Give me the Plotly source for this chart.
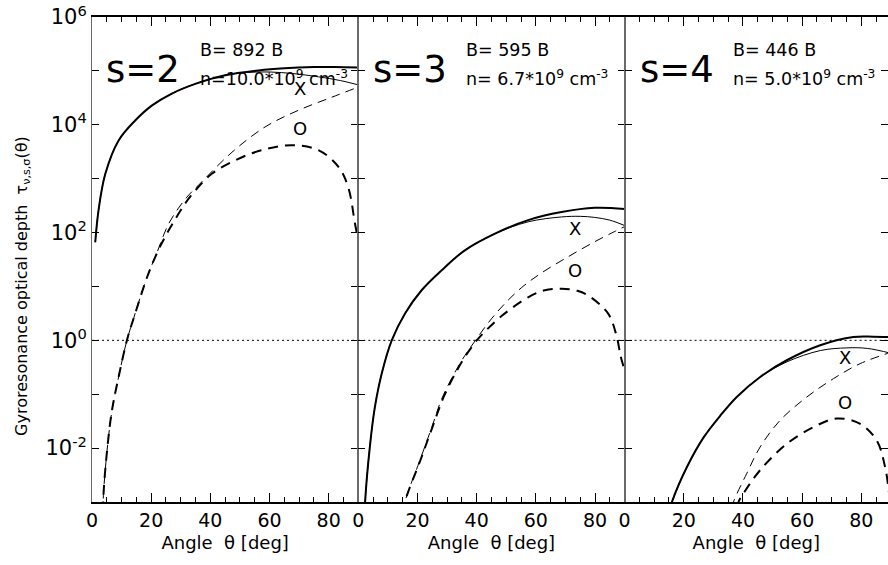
"""
Gyroresonance optical depth vs angle for harmonics s=2,3,4
"""
import plotly.graph_objects as go
from plotly.subplots import make_subplots

# ---- data (angle in deg, tau) ----
harmonics = ["s=2", "s=3", "s=4"]
b_labels = ["B= 892 B", "B= 595 B", "B= 446 B"]
n_labels = ["n=10.0*10<sup>9</sup> cm<sup>-3</sup>",
            "n= 6.7*10<sup>9</sup> cm<sup>-3</sup>",
            "n= 5.0*10<sup>9</sup> cm<sup>-3</sup>"]

# s=2
th2_x_thick = [1.1, 2.2, 4.5, 9.0, 14.6, 20.3, 27.0, 34.9, 45.0, 56.2, 65, 75, 82, 90]
tau2_x_thick = [66, 257, 1230, 5130, 1.2e4, 2.29e4, 3.8e4, 5.75e4, 8.32e4, 1.02e5,
                1.12e5, 1.175e5, 1.175e5, 1.15e5]
th2_x_thin = [1.1, 2.2, 4.5, 9.0, 14.6, 20.3, 27.0, 34.9, 45.0, 52, 60, 68, 76.5, 84, 90]
tau2_x_thin = [66, 257, 1230, 5130, 1.2e4, 2.29e4, 3.8e4, 5.75e4, 8.32e4, 9.33e4,
               9.55e4, 8.91e4, 7.76e4, 6.61e4, 5.5e4]
th2_o_thin = [3.5, 3.9, 5.1, 6.75, 9.0, 11.8, 14.6, 18.6, 21.9, 25.9, 31.5, 37.1,
              47.3, 58.5, 69.8, 81, 90]
tau2_o_thin = [3.2e-4, 1.45e-3, 9.1e-3, 0.050, 0.21, 1.0, 3.16, 14.8, 41.7, 145, 417,
               871, 3090, 9120, 1.86e4, 3.24e4, 5.01e4]
th2_o_thick = [3.5, 3.9, 5.1, 6.75, 9.0, 11.8, 14.6, 18.6, 21.4, 24.7, 31.5, 34.9,
               40.5, 48.4, 57.4, 67.5, 76.5, 83.3, 86.6, 88.9, 90]
tau2_o_thick = [3.2e-4, 1.45e-3, 9.1e-3, 0.050, 0.21, 1.0, 3.16, 14.8, 35.5, 83.2, 347,
                603, 1230, 2190, 3390, 4170, 3390, 1660, 692, 145, 70.8]

# s=3
th3_x_thick = [2.0, 2.3, 3.9, 5.6, 7.9, 11.3, 15.8, 21.4, 28.2, 36.0, 46.2, 57.4,
               68.7, 79.9, 90]
tau3_x_thick = [3.2e-4, 1e-3, 0.0105, 0.0575, 0.24, 1.0, 3.16, 8.5, 20, 46.8, 95.5,
                170, 240, 288, 275]
th3_x_thin = [2.0, 2.3, 3.9, 5.6, 7.9, 11.3, 15.8, 21.4, 28.2, 36.0, 46.2, 57.4,
              68.7, 75, 79.9, 85, 90]
tau3_x_thin = [3.2e-4, 1e-3, 0.0105, 0.0575, 0.24, 1.0, 3.16, 8.5, 20, 46.8, 95.5,
               158, 195, 200, 191, 170, 135]
th3_o_thin = [15.5, 15.8, 20.8, 24.8, 28.4, 34.7, 39.6, 45.0, 49.5, 55.2, 61.9, 70.9,
              79.9, 86.7, 90]
tau3_o_thin = [6.3e-4, 1e-3, 5.9e-3, 0.024, 0.087, 0.40, 1.0, 2.51, 4.79, 9.55, 17.8,
               35.5, 67.6, 105, 129]
th3_o_thick = [15.5, 15.8, 21.0, 25.0, 29.0, 35.0, 39.6, 41.7, 48.4, 57.4, 63.0, 68.7,
               74.0, 77.7, 84.4, 87.2, 88.7, 90]
tau3_o_thick = [6.3e-4, 1e-3, 6.0e-3, 0.024, 0.093, 0.40, 0.93, 1.26, 2.82, 6.3, 8.5,
                9.1, 8.3, 6.8, 3.16, 1.26, 0.50, 0.28]

# s=4
th4_x_thick = [15.5, 16.0, 21.1, 26.7, 32.3, 37.9, 45.8, 54.8, 66.1, 77.3, 84, 90]
tau4_x_thick = [7.9e-4, 1e-3, 4.5e-3, 0.0158, 0.0398, 0.089, 0.209, 0.427, 0.81, 1.15,
                1.17, 1.15]
th4_x_thin = [15.5, 16.0, 21.1, 26.7, 32.3, 37.9, 45.8, 54.8, 66.1, 75.1, 82, 90]
tau4_x_thin = [7.9e-4, 1e-3, 4.5e-3, 0.0158, 0.0398, 0.089, 0.209, 0.398, 0.646, 0.724,
               0.708, 0.575]
th4_o_thin = [36.5, 36.8, 41.3, 45.8, 52.6, 61.6, 70.6, 79.6, 90]
tau4_o_thin = [7.9e-4, 1e-3, 3.4e-3, 0.0105, 0.033, 0.089, 0.195, 0.37, 0.60]
th4_o_thick = [38.2, 38.5, 40.2, 45.8, 54.8, 63.8, 71.7, 79.6, 85.2, 88.0, 89.5, 90.5]
tau4_o_thick = [7.9e-4, 1e-3, 1.45e-3, 3.9e-3, 0.012, 0.0245, 0.0355, 0.0282, 0.0138,
                4.5e-3, 1.26e-3, 4e-4]

panels = [
    (th2_x_thick, tau2_x_thick, th2_x_thin, tau2_x_thin,
     th2_o_thin, tau2_o_thin, th2_o_thick, tau2_o_thick),
    (th3_x_thick, tau3_x_thick, th3_x_thin, tau3_x_thin,
     th3_o_thin, tau3_o_thin, th3_o_thick, tau3_o_thick),
    (th4_x_thick, tau4_x_thick, th4_x_thin, tau4_x_thin,
     th4_o_thin, tau4_o_thin, th4_o_thick, tau4_o_thick),
]

# mode label positions (deg, log10 tau)
x_label_pos = [(70.3, 4.68), (73.2, 2.08), (74.5, -0.32)]
o_label_pos = [(70.3, 3.93), (73.2, 1.30), (74.5, -1.15)]

y_tickvals = [1e-3, 1e-2, 1e-1, 1, 10, 1e2, 1e3, 1e4, 1e5, 1e6]
y_ticktext = ["", "10<sup>-2</sup>", "", "10<sup>0</sup>", "", "10<sup>2</sup>", "",
              "10<sup>4</sup>", "", "10<sup>6</sup>"]
x_ranges = [[0, 90], [0, 90], [0, 89.0]]

FONT = "DejaVu Sans, Liberation Sans, Arial, sans-serif"

fig = make_subplots(rows=1, cols=3, shared_yaxes=True, horizontal_spacing=0,
                    column_widths=[266.6, 266.6, 263.7])

for i, (xa, ya, xb, yb, xc, yc, xd, yd) in enumerate(panels):
    col = i + 1
    fig.add_trace(go.Scatter(x=xa, y=ya, mode="lines", line_shape="spline",
                             line=dict(color="black", width=2)), row=1, col=col)
    fig.add_trace(go.Scatter(x=xb, y=yb, mode="lines", line_shape="spline",
                             line=dict(color="black", width=1)), row=1, col=col)
    fig.add_trace(go.Scatter(x=xc, y=yc, mode="lines", line_shape="spline",
                             line=dict(color="black", width=1, dash="9px,6px")),
                  row=1, col=col)
    fig.add_trace(go.Scatter(x=xd, y=yd, mode="lines", line_shape="spline",
                             line=dict(color="black", width=2, dash="10px,7px")),
                  row=1, col=col)
    # tau = 1 reference line
    fig.add_trace(go.Scatter(x=x_ranges[i], y=[1, 1], mode="lines",
                             line=dict(color="black", width=1, dash="2px,3px")),
                  row=1, col=col)

    fig.update_xaxes(range=x_ranges[i], tick0=0, dtick=20, ticks="inside", ticklen=9,
                     tickcolor="black", minor=dict(dtick=5, ticks="inside", ticklen=5,
                                                   tickcolor="black"),
                     showline=True, linecolor="black", linewidth=1.5, mirror="ticks",
                     showgrid=False, zeroline=False,
                     tickfont=dict(size=19, color="black", family=FONT),
                     title=dict(text="Angle\u00a0\u00a0θ [deg]", standoff=7,
                                font=dict(size=18, color="black", family=FONT)),
                     row=1, col=col)
    fig.update_yaxes(type="log", range=[-3, 6], tickvals=y_tickvals, ticktext=y_ticktext,
                     ticks="inside", ticklen=7, tickcolor="black",
                     showline=True, linecolor="#6a6a6a", linewidth=1, mirror="ticks",
                     showgrid=False, zeroline=False,
                     tickfont=dict(size=21, color="black", family=FONT),
                     showticklabels=(col == 1), row=1, col=col)

    xref = "x" if col == 1 else f"x{col}"
    yref = "y" if col == 1 else f"y{col}"
    fig.add_annotation(x=4.0 + 0.3 * i, y=5.03, xref=xref, yref=yref, text=harmonics[i],
                       showarrow=False, xanchor="left", yanchor="middle",
                       font=dict(size=37, color="black", family=FONT))
    fig.add_annotation(x=35.8, y=5.38, xref=xref, yref=yref, text=b_labels[i],
                       showarrow=False, xanchor="left", yanchor="middle",
                       font=dict(size=17.5, color="black", family=FONT))
    fig.add_annotation(x=35.8, y=4.86, xref=xref, yref=yref, text=n_labels[i],
                       showarrow=False, xanchor="left", yanchor="middle",
                       font=dict(size=17.5, color="black", family=FONT))
    fig.add_annotation(x=x_label_pos[i][0], y=x_label_pos[i][1], xref=xref, yref=yref,
                       text="X", showarrow=False,
                       font=dict(size=18, color="black", family=FONT))
    fig.add_annotation(x=o_label_pos[i][0], y=o_label_pos[i][1], xref=xref, yref=yref,
                       text="O", showarrow=False,
                       font=dict(size=18, color="black", family=FONT))

# y-axis title placed by hand (it sits below the axis centre in the original)
fig.add_annotation(x=-0.104, y=0.445, xref="paper", yref="paper", textangle=-90,
                   text="Gyroresonance optical depth\u00a0\u00a0τ<sub>ν,s,σ</sub>(θ)",
                   showarrow=False, font=dict(size=16, color="black", family=FONT))

fig.update_layout(
    width=888, height=565,
    margin=dict(l=92, r=0, t=17, b=63),
    plot_bgcolor="white", paper_bgcolor="white",
    showlegend=False,
    font=dict(family=FONT, color="black"),
)

fig.write_html("out.html", config={"displayModeBar": False},
               post_script="document.body.style.margin='0px';")
